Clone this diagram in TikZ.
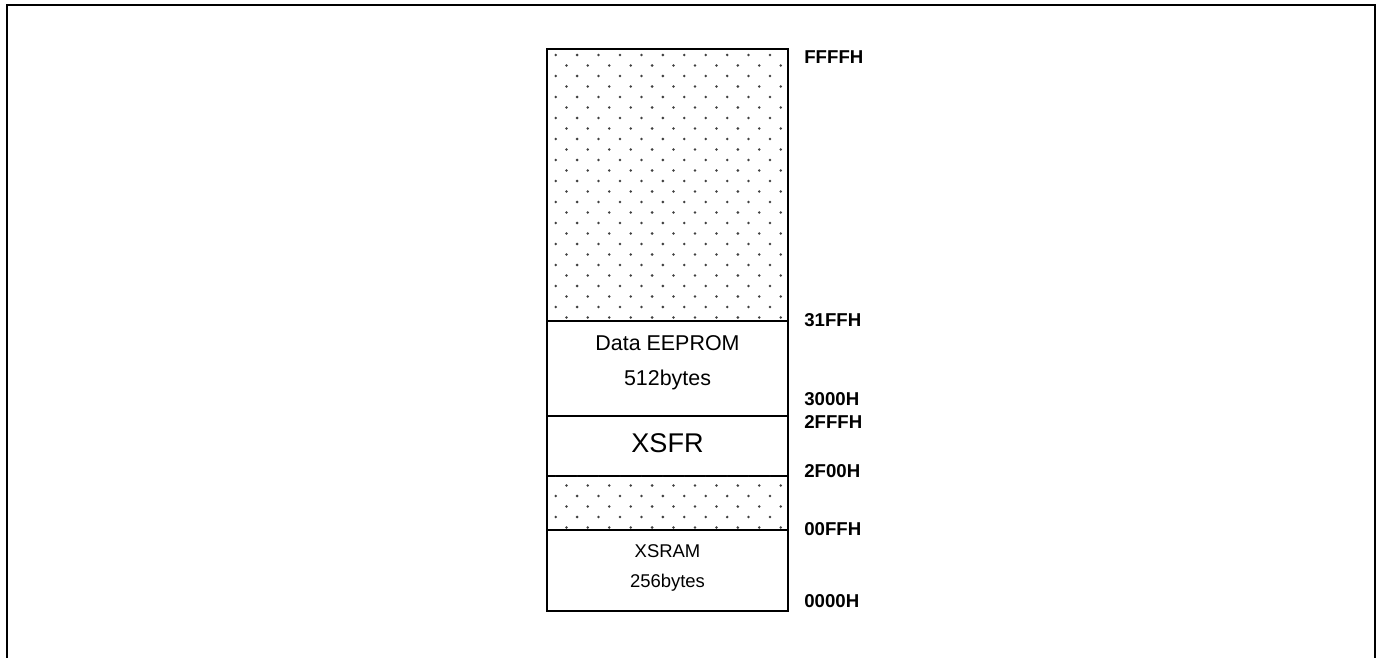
\documentclass[tikz,border=0pt]{standalone}
\usepackage{fontspec}
\setmainfont{Liberation Sans}
\usetikzlibrary{positioning}
\definecolor{dotgray}{gray}{0.25}

\begin{document}
\begin{tikzpicture}[x=0.02cm, y=-0.02cm, node distance=0pt,
    region/.style={draw, line width=1.6pt, outer sep=0pt, inner sep=0pt, minimum width=4.82cm},
    addr/.style={anchor=west, inner sep=0pt, font=\fontsize{10.6}{12}\selectfont\bfseries},
    memtext/.style={inner sep=0pt}]
  \useasboundingbox (0,0) rectangle (1381,658);
  % outer frame
  \draw[line width=1.5pt] (7,658) -- (7,5) -- (1375,5) -- (1375,658);

  % memory map
  \node[region, minimum height=5.44cm] (free1) at (667.5,185) {};
  \node[region, minimum height=1.9cm, below=of free1] (eeprom) {};
  \node[region, minimum height=1.2cm, below=of eeprom] (xsfr) {};
  \node[region, minimum height=1.08cm, below=of xsfr] (free2) {};
  \node[region, minimum height=1.62cm, below=of free2] (xsram) {};

  % dotted (unused) areas
  \begin{scope}
    \clip (free1.north west) rectangle (free1.south east)
          (free2.north west) rectangle (free2.south east);
    \foreach \r in {0,...,53} {
      \pgfmathsetmacro{\dy}{55+10.5*\r}
      \pgfmathsetmacro{\dx}{555.7+10.7*mod(\r,2)}
      \foreach \c in {0,...,10}
        \fill[dotgray] (\dx+21.43*\c,\dy) circle[radius=1.4];
    }
  \end{scope}

  \node[memtext, font=\fontsize{12.2}{14}\selectfont] (eeName) at (667.5,343) {Data EEPROM};
  \node[memtext, font=\fontsize{12.2}{14}\selectfont] (eeSize) at (667.5,380) {512bytes};
  \node[memtext, font=\fontsize{15.4}{18}\selectfont] (xsfrName) at (667.5,443) {XSFR};
  \node[memtext, font=\fontsize{10.5}{12}\selectfont] (xsramName) at (667.5,551) {XSRAM};
  \node[memtext, font=\fontsize{10.5}{12}\selectfont] (xsramSize) at (667.5,583) {256bytes};

  % addresses
  \node[addr] (aFFFF) at (804,57) {FFFFH};
  \node[addr] (a31FF) at (804,320) {31FFH};
  \node[addr] (a3000) at (804,399) {3000H};
  \node[addr] (a2FFF) at (804,422) {2FFFH};
  \node[addr] (a2F00) at (804,471) {2F00H};
  \node[addr] (a00FF) at (804,529) {00FFH};
  \node[addr] (a0000) at (804,601) {0000H};
\end{tikzpicture}
\end{document}
